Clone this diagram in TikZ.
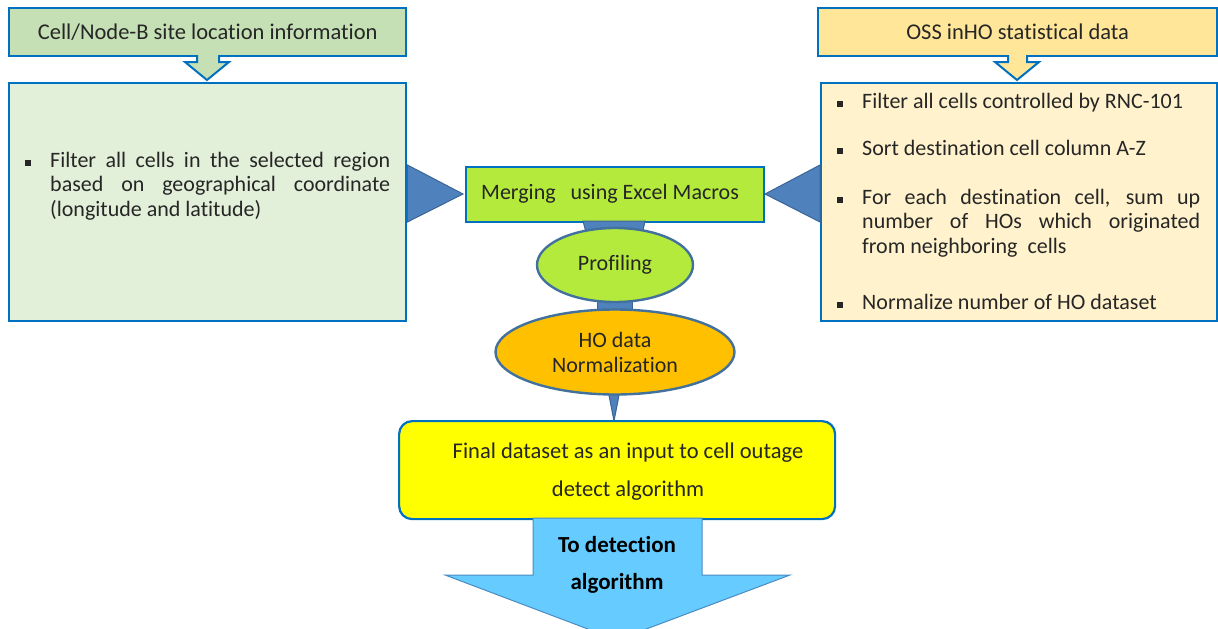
\documentclass[tikz,border=0pt]{standalone}
\usepackage{fontspec}
\setmainfont{Carlito}[Ligatures=NoCommon]
\usetikzlibrary{shapes.geometric}
\definecolor{edgeblue}{HTML}{0070C0}
\definecolor{shapeblue}{HTML}{4F81BD}
\definecolor{shapeedge}{HTML}{3A6596}
\definecolor{ellipseedge}{HTML}{41719C}
\definecolor{titlegreen}{HTML}{C5E0B4}
\definecolor{boxgreen}{HTML}{E2F0D9}
\definecolor{titlegold}{HTML}{FFE699}
\definecolor{boxgold}{HTML}{FFF2CC}
\definecolor{lime}{HTML}{B4EA3C}
\definecolor{amber}{HTML}{FFC000}
\definecolor{brightyellow}{HTML}{FFFF00}
\definecolor{sky}{HTML}{66CCFF}
\definecolor{skyedge}{HTML}{4A8BC2}
\definecolor{ink}{HTML}{262626}
% square bullet hung to the left of the item text
\newcommand{\bsq}{\llap{\rule[1pt]{6pt}{6pt}\hspace{19pt}}}
\tikzset{
  panel/.style={draw=edgeblue, line width=2.4pt, inner sep=0pt},
  blurb/.style={inner sep=0pt, text=ink, font=\fontsize{22}{24.5}\selectfont},
  itemtext/.style={blurb, anchor=base west, align=justify},
  bigarrow/.style={draw=edgeblue, line width=2pt},
  link/.style={fill=shapeblue, draw=shapeedge, line width=1pt},
  oval/.style={ellipse, draw=ellipseedge, line width=2.4pt, inner sep=0pt, text=ink,
               font=\fontsize{22}{25}\selectfont, align=center}
}
\begin{document}
\begin{tikzpicture}[x=1pt,y=-1pt]
\useasboundingbox (0,0) rectangle (1218,629);
\clip (0,0) rectangle (1218,629);

% ---- left column: site location data
\node[panel, fill=titlegreen, minimum width=397pt, minimum height=48pt, anchor=north west,
      blurb, font=\fontsize{22.5}{24.5}\selectfont] (lt) at (8,7) {Cell/Node-B site location information};
\node[panel, fill=boxgreen, minimum width=397pt, minimum height=238pt, anchor=north west] (lb) at (8,82) {};
\draw[bigarrow, fill=titlegreen] (197,55) -- (197,62) -- (185,62) -- (207,80) -- (229,62) -- (219,62) -- (219,55);
\node[itemtext, text width=340pt] (lbt) at (50,167)
  {\bsq Filter all cells in the selected region\linebreak based on geographical coordinate\linebreak (longitude and latitude)};

% ---- right column: OSS handover statistics
\node[panel, fill=titlegold, minimum width=399pt, minimum height=48pt, anchor=north west,
      blurb, font=\fontsize{22.5}{24.5}\selectfont] (rt) at (817,7) {OSS inHO statistical data};
\node[panel, fill=boxgold, minimum width=396pt, minimum height=238pt, anchor=north west] (rb) at (820,82) {};
\draw[bigarrow, fill=titlegold] (1008,55) -- (1008,62) -- (995,62) -- (1017,80) -- (1039,62) -- (1027,62) -- (1027,55);
\node[itemtext, text width=338pt] (r1) at (862,108) {\bsq Filter all cells controlled by RNC-101};
\node[itemtext, text width=338pt] (r2) at (862,155) {\bsq Sort destination cell column A-Z};
\node[itemtext, text width=338pt] (r3) at (862,204)
  {\bsq For each destination cell, sum up\linebreak number of HOs which originated\linebreak from neighboring~~cells};
\node[itemtext, text width=338pt] (r4) at (862,309) {\bsq Normalize number of HO dataset};

% ---- merging stage
\node[panel, fill=lime, minimum width=298pt, minimum height=55pt, anchor=north west] (mg) at (465,166) {};
\node[blurb, anchor=west] (mgt) at (481,194) {Merging~~ using Excel Macros};
\draw[link] (lb.east |- 0,165) -- (463,194) -- (lb.east |- 0,222) -- cycle;
\draw[link] (rb.west |- 0,165) -- (765,194) -- (rb.west |- 0,222) -- cycle;

% ---- links between the stages (drawn first, ovals sit on top)
\draw[link] (583,221) -- (645,221) -- (641,240) -- (588,240) -- cycle;
\draw[link] (597,292) -- (632,292) -- (632,322) -- (597,322) -- cycle;
\draw[link] (607,385) -- (621,385) -- (614,421) -- cycle;

\node[oval, fill=lime, minimum width=156pt, minimum height=74pt] (pf) at (615,265) {Profiling};
\node[oval, fill=amber, minimum width=239pt, minimum height=85pt] (ho) at (615,352) {HO data\\Normalization};

% ---- final dataset
\node[panel, draw=edgeblue, line width=2.2pt, rounded corners=13pt, fill=brightyellow,
      minimum width=436pt, minimum height=98pt, anchor=north west] (fd) at (398,420) {};
\node[blurb, align=center, font=\fontsize{22.5}{38}\selectfont] (fdt) at (628,472)
  {Final dataset as an input to cell outage\\detect algorithm};

% ---- hand-off arrow
\draw[fill=sky, draw=skyedge, line width=1pt]
  (533,518) -- (702,518) -- (702,575) -- (790,575) -- (617,640) -- (445,575) -- (533,575) -- cycle;
\node[blurb, align=center, font=\bfseries\fontsize{23}{37}\selectfont, text=black] (out) at (617,565)
  {To detection\\algorithm};
\end{tikzpicture}
\end{document}
